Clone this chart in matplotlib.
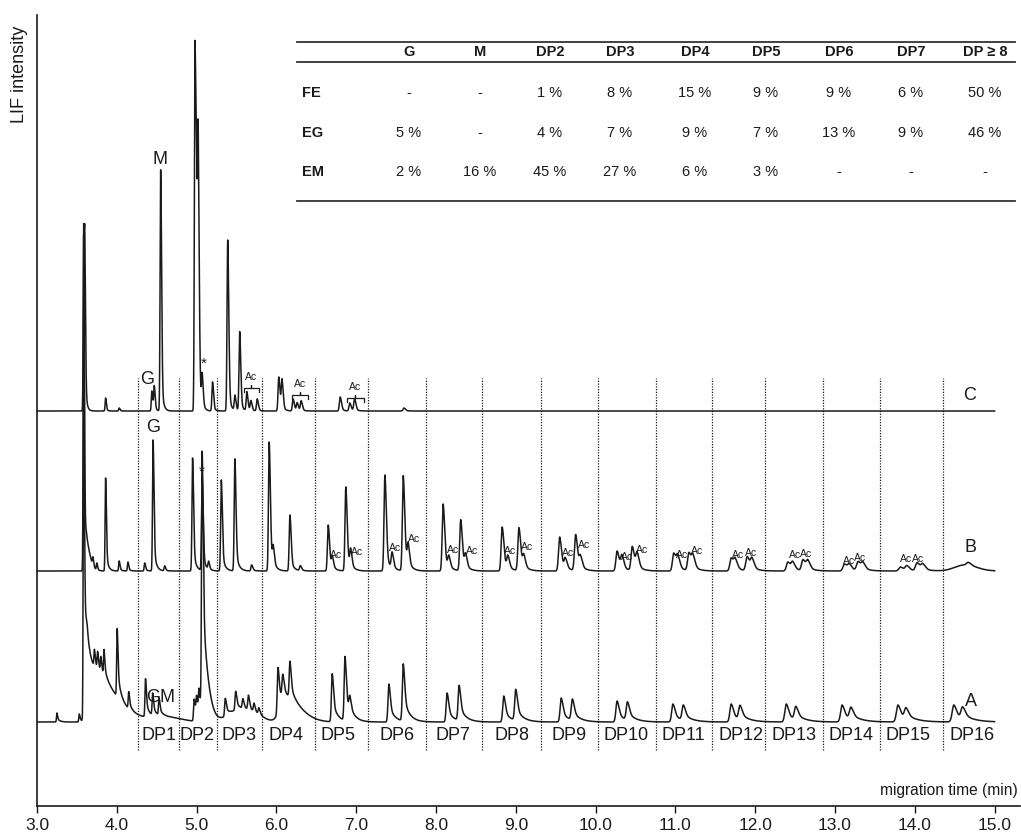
import numpy as np
import matplotlib
matplotlib.use("Agg")
import matplotlib.pyplot as plt
from matplotlib.lines import Line2D

plt.rcParams['font.family'] = ['Liberation Sans', 'DejaVu Sans']

# Temps de migration (min) et hauteurs des pics (au-dessus de la ligne de base)
pics_c_t = [3.585, 3.60, 3.86, 4.03, 4.44, 4.47, 4.55, 4.98, 5.00, 5.02, 5.07, 5.20, 5.39,
            5.48, 5.54, 5.63, 5.68, 5.76, 6.03, 6.07, 6.21, 6.26, 6.31, 6.80, 6.92, 6.98, 7.60]
pics_c_h = [183, 120, 13, 3, 20, 24, 241, 365, 150, 226, 30, 29, 171,
            15, 79, 19, 10, 12, 34, 30, 12, 8, 10, 14, 8, 12, 3]

pics_b_t = [3.585, 3.70, 3.75, 3.86, 4.03, 4.14, 4.35, 4.455, 4.60, 4.95, 5.07, 5.15, 5.31,
            5.48, 5.69, 5.91, 5.96, 6.17, 6.30, 6.65, 6.70, 6.87, 6.93, 7.36, 7.45, 7.59, 7.65,
            8.09, 8.16, 8.31, 8.37, 8.83, 8.90, 9.04, 9.10, 9.55, 9.62, 9.75, 9.81,
            10.27, 10.33, 10.46, 10.52, 10.98, 11.03, 11.17, 11.22, 11.70, 11.75, 11.90, 11.96,
            12.41, 12.47, 12.60, 12.66, 13.12, 13.18, 13.29, 13.35, 13.82, 13.90, 14.03, 14.10, 14.67]
pics_b_h = [336, 8, 7, 93, 10, 9, 8, 131, 5, 113, 94, 8, 91,
            112, 6, 129, 18, 56, 5, 46, 12, 84, 18, 96, 16, 95, 22,
            67, 12, 51, 14, 44, 13, 43, 13, 34, 11, 36, 12,
            20, 14, 24, 16, 18, 13, 18, 13, 13, 10, 14, 11,
            9, 8, 11, 9, 7, 6, 9, 7, 4, 5, 8, 6, 3]

pics_a_t = [3.25, 3.53, 3.585, 3.72, 3.76, 3.80, 3.84, 4.005, 4.15, 4.36,
            4.45, 4.53, 4.97, 5.00, 5.03, 5.07, 5.36, 5.49, 5.58, 5.65,
            5.72, 5.78, 6.02, 6.08, 6.17, 6.70, 6.86, 6.92, 7.41, 7.59,
            8.14, 8.29, 8.85, 9.00, 9.57, 9.71, 10.27, 10.40, 10.97, 11.10,
            11.70, 11.81, 12.39, 12.51, 13.09, 13.20, 13.79, 13.89, 14.49, 14.60]
pics_a_h = [9, 8, 330, 17, 17, 15, 26, 68, 17, 38,
            22, 17, 22, 20, 25, 240, 18, 19, 10, 15,
            9, 7, 45, 20, 37, 48, 64, 15, 38, 57,
            29, 35, 26, 31, 24, 21, 21, 18, 18, 15,
            18, 14, 18, 13, 17, 12, 17, 11, 17, 12]

# Bosses larges (t, hauteur, largeur gauche, largeur droite)
bosses_a = [(3.63, 55, 0.02, 0.30), (4.60, 5, 0.20, 0.20), (5.08, 28, 0.015, 0.08),
            (5.55, 12, 0.15, 0.18), (6.10, 22, 0.06, 0.20)]
bosses_b = [(3.62, 20, 0.01, 0.05), (14.62, 6, 0.12, 0.15)]
bosses_c = []

# Lignes de base des trois électrophorégrammes
base_a, base_b, base_c = 84, 235, 395

# Limites des DP (lignes pointillées) et étiquettes
limites_dp = [4.27, 4.78, 5.26, 5.82, 6.48, 7.15, 7.87, 8.58, 9.32, 10.03,
              10.76, 11.46, 12.12, 12.85, 13.56, 14.35]
noms_dp = ['DP%d' % i for i in range(1, 17)]
centres_dp = [4.53, 5.005, 5.53, 6.12, 6.77, 7.51, 8.21, 8.95, 9.67, 10.38,
              11.10, 11.82, 12.49, 13.20, 13.92, 14.72]

# Tableau des proportions
colonnes = ['G', 'M', 'DP2', 'DP3', 'DP4', 'DP5', 'DP6', 'DP7', 'DP \u2265 8']
lignes = ['FE', 'EG', 'EM']
valeurs = [['-', '-', '1 %', '8 %', '15 %', '9 %', '9 %', '6 %', '50 %'],
           ['5 %', '-', '4 %', '7 %', '9 %', '7 %', '13 %', '9 %', '46 %'],
           ['2 %', '16 %', '45 %', '27 %', '6 %', '3 %', '-', '-', '-']]

# Étiquettes "Ac" de la trace B
ac_b = [(6.75, 251), (7.01, 254), (7.49, 258), (7.72, 267), (8.21, 256), (8.45, 255),
        (8.93, 255), (9.14, 259), (9.65, 253), (9.86, 261), (10.39, 249), (10.58, 256),
        (11.08, 251), (11.27, 255), (11.78, 251), (11.95, 253), (12.50, 251), (12.64, 252),
        (13.18, 245), (13.31, 248), (13.89, 247), (14.04, 247)]


def pic(t, t0, h, wl, wr, f, tau):
    """Pic asymétrique : gaussienne à gauche, gaussienne + traînée exponentielle à droite"""
    dt = t - t0
    gauche = np.exp(-0.5 * (dt / wl) ** 2)
    droite = (1 - f) * np.exp(-0.5 * (dt / wr) ** 2) + f * np.exp(-np.clip(dt, 0, None) / tau)
    return h * np.where(dt < 0, gauche, droite)


def trace(t, temps, hauteurs, bosses, base, f, k_tau):
    y = np.full_like(t, float(base))
    for t0, h in zip(temps, hauteurs):
        wl = 0.005 + 0.0014 * (t0 - 3)
        y += pic(t, t0, h, wl, 1.6 * wl, f, k_tau * wl)
    for t0, h, wl, wr in bosses:
        y += pic(t, t0, h, wl, wr, 0.0, 1.0)
    return y


t = np.linspace(3.0, 15.0, 12001)
ya = trace(t, pics_a_t, pics_a_h, bosses_a, base_a, 0.45, 6)
yb = trace(t, pics_b_t, pics_b_h, bosses_b, base_b, 0.25, 4)
yc = trace(t, pics_c_t, pics_c_h, bosses_c, base_c, 0.20, 3)

W, H = 1021, 832
fig = plt.figure(figsize=(W / 100, H / 100), dpi=100)
ax = fig.add_axes([37 / W, 26 / H, (1020 - 37) / W, (806 - 15) / H])

col = '#1a1a1a'
for y in (yc, yb, ya):
    ax.plot(t, y, color=col, lw=1.1)

for x in limites_dp:
    ax.plot([x, x], [56, 428], color=col, lw=0.9, ls=(0, (1, 1.2)))

for nom, x in zip(noms_dp, centres_dp):
    ax.text(x, 70, nom, ha='center', va='center', fontsize=13, color=col)

# Étiquettes des pics
ax.text(4.54, 646, 'M', ha='center', va='center', fontsize=13, color=col)
ax.text(4.38, 427, 'G', ha='center', va='center', fontsize=13, color=col)
ax.text(5.09, 442, '*', ha='center', va='center', fontsize=11, color=col)
ax.text(4.45, 378, 'G', ha='center', va='center', fontsize=13, color=col)
ax.text(5.07, 334, '*', ha='center', va='center', fontsize=11, color=col)
ax.text(4.55, 109, 'GM', ha='center', va='center', fontsize=13, color=col)
ax.text(14.69, 411, 'C', ha='center', va='center', fontsize=13, color=col)
ax.text(14.70, 259, 'B', ha='center', va='center', fontsize=13, color=col)
ax.text(14.70, 105, 'A', ha='center', va='center', fontsize=13, color=col)

# Accolades "Ac" sur la trace C
for t1, t2, yb_ in [(5.59, 5.78, 418), (6.20, 6.40, 411), (6.88, 7.10, 408)]:
    tm = (t1 + t2) / 2
    ax.plot([t1, t1, tm, tm, tm, t2, t2], [yb_ - 4, yb_, yb_, yb_ + 3, yb_, yb_, yb_ - 4],
            color=col, lw=0.9)
    ax.text(tm, yb_ + 11, 'Ac', ha='center', va='center', fontsize=7.5, color=col)

for x, y in ac_b:
    ax.text(x, y, 'Ac', ha='center', va='center', fontsize=7.5, color=col)

ax.set_xlim(3.0, 3 + (1020 - 37) / 79.8)
ax.set_ylim(0, 791)
ax.set_xticks(np.arange(3, 16, 1))
ax.set_xticklabels(['%.1f' % v for v in np.arange(3, 16, 1)])
ax.set_yticks([])
ax.tick_params(axis='x', direction='out', length=5, width=1, labelsize=12.5, pad=4, colors=col)
for s in ('top', 'right'):
    ax.spines[s].set_visible(False)
for s in ('left', 'bottom'):
    ax.spines[s].set_linewidth(1.2)
    ax.spines[s].set_color(col)
ax.patch.set_alpha(0)

fig.text(20 / W, 1 - 74 / H, 'LIF intensity', rotation=90, ha='center', va='center',
         fontsize=13, color=col)
fig.text(1018 / W, 1 - 791 / H, 'migration time (min)', ha='right', va='center',
         fontsize=11.2, color=col)

# Tableau
for yl in (42, 62, 201):
    fig.add_artist(Line2D([297 / W, 1015 / W], [1 - yl / H, 1 - yl / H], color='#333333', lw=1.3))
xs_col = [409, 480, 550, 620, 695, 766, 839, 911, 985]
ys_lig = [93, 133, 172]
for c, x in zip(colonnes, xs_col):
    fig.text(x / W, 1 - 52 / H, c, ha='center', va='center', fontsize=10.5,
             fontweight='bold', color=col)
for i, (r, y) in enumerate(zip(lignes, ys_lig)):
    fig.text(302 / W, 1 - y / H, r, ha='left', va='center', fontsize=10.5,
             fontweight='bold', color=col)
    for v, x in zip(valeurs[i], xs_col):
        fig.text(x / W, 1 - y / H, v, ha='center', va='center', fontsize=10.5, color=col)

fig.savefig('out.png', dpi=100)
